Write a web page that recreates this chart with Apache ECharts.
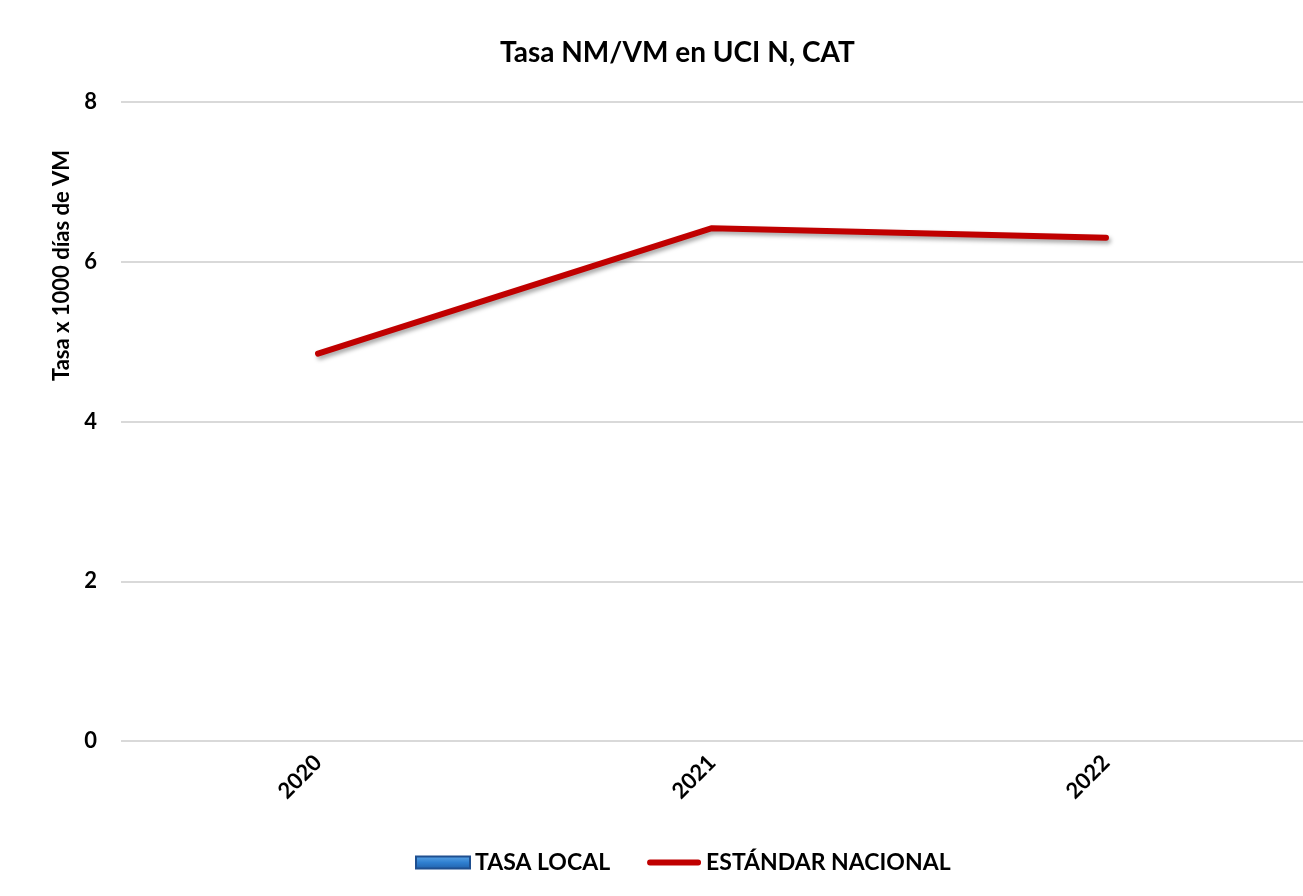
<!DOCTYPE html>
<html>
<head>
<meta charset="utf-8">
<script src="https://cdn.jsdelivr.net/npm/echarts@6/dist/echarts.min.js"></script>
<style>
html,body{margin:0;padding:0;background:#fff;}
#chart{width:1303px;height:896px;}
</style>
</head>
<body>
<div id="chart"></div>
<script>
const titleText = 'Tasa NM/VM en UCI N, CAT';
const yAxisName = 'Tasa x 1000 días de VM';
const categories = ['2020', '2021', '2022'];
const tasaLocal = [null, null, null];
const estandarNacional = [4.85, 6.42, 6.30];
const seriesNames = ['TASA LOCAL', 'ESTÁNDAR NACIONAL'];

const FONT = 'Lato, "Open Sans", sans-serif';
const chart = echarts.init(document.getElementById('chart'));
chart.setOption({
  backgroundColor: '#ffffff',
  animation: false,
  title: {
    text: titleText,
    left: 495,
    top: 34,
    textStyle: { fontFamily: FONT, fontSize: 28, fontWeight: 'bold', color: '#000' }
  },
  grid: { left: 121, right: -10, top: 102, bottom: 155, containLabel: false },
  legend: {
    top: 846,
    left: 410,
    itemGap: 37,
    itemWidth: 54,
    itemHeight: 12,
    textStyle: { fontFamily: FONT, fontSize: 23, fontWeight: 'bold', color: '#000' },
    data: [
      { name: seriesNames[0], icon: 'rect' },
      { name: seriesNames[1], icon: 'path://M3,0 L53,0 A3,3 0 0 1 53,6 L3,6 A3,3 0 0 1 3,0 Z' }
    ]
  },
  xAxis: {
    type: 'category',
    data: categories,
    boundaryGap: true,
    axisLine: { show: false },
    axisTick: { show: false },
    axisLabel: {
      rotate: 45,
      margin: 18,
      fontFamily: FONT, fontSize: 22, fontWeight: 'bold', color: '#000'
    }
  },
  yAxis: {
    type: 'value',
    min: 0, max: 8, interval: 2,
    name: yAxisName,
    nameLocation: 'middle',
    nameRotate: 90,
    nameGap: 38,
    nameTextStyle: {
      fontFamily: FONT, fontSize: 22, fontWeight: 'bold', color: '#000',
      padding: [0, 0, 0, 312]
    },
    axisLine: { show: false },
    axisTick: { show: false },
    axisLabel: { margin: 24, fontFamily: FONT, fontSize: 22, fontWeight: 'bold', color: '#000' },
    splitLine: { lineStyle: { color: '#d9d9d9', width: 2 } }
  },
  series: [
    {
      name: seriesNames[0],
      type: 'bar',
      data: tasaLocal,
      itemStyle: {
        color: new echarts.graphic.LinearGradient(0, 0, 0, 1, [
          { offset: 0, color: '#5fa8e8' },
          { offset: 0.5, color: '#2f7fd0' },
          { offset: 1, color: '#1f5fa8' }
        ]),
        borderColor: '#1f4f8f', borderWidth: 1
      }
    },
    {
      name: seriesNames[1],
      type: 'line',
      data: estandarNacional,
      symbol: 'none',
      color: '#C00000',
      lineStyle: {
        color: '#C00000', width: 6, cap: 'round', join: 'round',
        shadowColor: 'rgba(0,0,0,0.35)', shadowBlur: 4, shadowOffsetX: 2, shadowOffsetY: 3
      },
      itemStyle: { color: '#C00000' }
    }
  ]
});
</script>
</body>
</html>
